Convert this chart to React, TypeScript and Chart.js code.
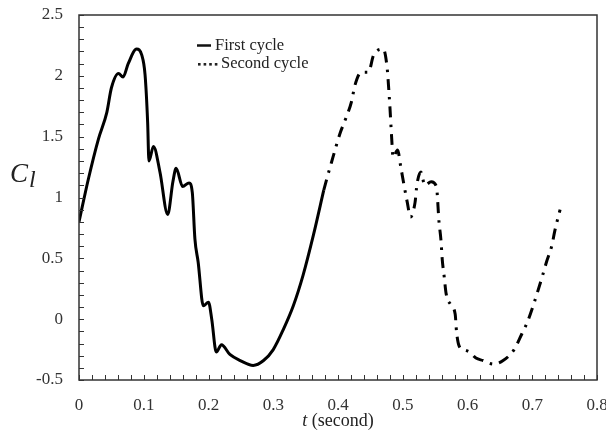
import React, { useEffect, useRef } from 'react';
import { Chart, registerables } from 'chart.js';

Chart.register(...registerables);

// ---- data ----
const firstT = [
  0, 0.0144, 0.03, 0.043, 0.05, 0.061, 0.068, 0.076, 0.089, 0.097, 0.102, 0.106, 0.108,
  0.115, 0.125, 0.137, 0.145, 0.15, 0.16, 0.17, 0.175, 0.179, 0.184, 0.192, 0.2, 0.205,
  0.212, 0.22, 0.233, 0.249, 0.269, 0.285, 0.3, 0.316, 0.331, 0.346, 0.362, 0.378,
];
const firstCl = [
  0.8, 1.15, 1.48, 1.7, 1.9, 2.02, 1.99, 2.1, 2.22, 2.17, 2.01, 1.62, 1.3,
  1.42, 1.21, 0.86, 1.13, 1.24, 1.09, 1.12, 1.04, 0.66, 0.47, 0.11, 0.14, 0.0,
  -0.27, -0.21, -0.29, -0.34, -0.38, -0.34, -0.25, -0.08, 0.11, 0.36, 0.69, 1.06,
];
const secondT = [
  0.378, 0.383, 0.39, 0.397, 0.404, 0.412, 0.421, 0.426, 0.436, 0.447, 0.455, 0.47, 0.476,
  0.478, 0.48, 0.483, 0.485, 0.492, 0.497, 0.502, 0.507, 0.512, 0.519, 0.522, 0.528, 0.534,
  0.544, 0.552, 0.556, 0.559, 0.561, 0.564, 0.567, 0.574, 0.581, 0.583, 0.587, 0.594, 0.603,
  0.613, 0.624, 0.64, 0.655, 0.672, 0.684, 0.692, 0.702, 0.708, 0.716, 0.722, 0.73, 0.735, 0.743,
];
const secondCl = [
  1.06, 1.16, 1.29, 1.42, 1.54, 1.65, 1.79, 1.92, 2.03, 2.03, 2.17, 2.22, 2.06,
  1.92, 1.76, 1.48, 1.33, 1.39, 1.25, 1.1, 0.96, 0.84, 0.96, 1.11, 1.21, 1.1,
  1.13, 1.09, 0.8, 0.65, 0.49, 0.35, 0.21, 0.12, 0.04, -0.1, -0.22, -0.25, -0.27,
  -0.32, -0.34, -0.37, -0.34, -0.25, -0.12, -0.03, 0.12, 0.22, 0.36, 0.47, 0.6, 0.73, 0.9,
];
const xTickLabels = ['0', '0.1', '0.2', '0.3', '0.4', '0.5', '0.6', '0.7', '0.8'];
const yTickLabels = ['-0.5', '0', '0.5', '1', '1.5', '2', '2.5'];
const seriesNames = ['First cycle', 'Second cycle'];
const xTitleItalic = 't';
const xTitleRest = ' (second)';
const yTitleMain = 'C';
const yTitleSub = 'l';

const SERIF = '"Liberation Serif", "Times New Roman", serif';

const isMultiple = (v: number, step: number) => Math.abs(v / step - Math.round(v / step)) < 1e-6;

const decorPlugin = {
  id: 'decor',
  afterDraw(chart: any) {
    const { ctx, chartArea } = chart;
    const { left, right, top, bottom } = chartArea;
    ctx.save();

    // inward tick marks along the bottom and left axes
    ctx.strokeStyle = '#333';
    ctx.lineWidth = 1;
    const xs = chart.scales.x;
    const ys = chart.scales.y;
    ctx.beginPath();
    xs.ticks.forEach((t: any) => {
      const px = Math.round(xs.getPixelForValue(t.value)) + 0.5;
      ctx.moveTo(px, bottom);
      ctx.lineTo(px, bottom - 5);
    });
    ys.ticks.forEach((t: any) => {
      const py = Math.round(ys.getPixelForValue(t.value)) + 0.5;
      ctx.moveTo(left, py);
      ctx.lineTo(left + 5, py);
    });
    ctx.stroke();

    // frame
    ctx.strokeStyle = '#333';
    ctx.lineWidth = 1.5;
    ctx.strokeRect(left, top, right - left, bottom - top);

    // legend
    ctx.fillStyle = '#222';
    ctx.strokeStyle = '#111';
    ctx.lineWidth = 2.5;
    ctx.beginPath();
    ctx.moveTo(197, 45.5);
    ctx.lineTo(211, 45.5);
    ctx.stroke();
    ctx.font = `16.5px ${SERIF}`;
    ctx.textBaseline = 'alphabetic';
    ctx.textAlign = 'left';
    ctx.fillText(seriesNames[0], 215, 50);
    for (let i = 0; i < 4; i++) {
      ctx.fillRect(198 + i * 5.6, 63, 2.6, 2.6);
    }
    ctx.fillText(seriesNames[1], 221, 68);

    // x title
    ctx.font = `italic 18px ${SERIF}`;
    const w1 = ctx.measureText(xTitleItalic).width;
    ctx.font = `18px ${SERIF}`;
    const w2 = ctx.measureText(xTitleRest).width;
    const cx = (left + right) / 2;
    const x0 = cx - (w1 + w2) / 2;
    ctx.font = `italic 18px ${SERIF}`;
    ctx.fillText(xTitleItalic, x0, 426);
    ctx.font = `18px ${SERIF}`;
    ctx.fillText(xTitleRest, x0 + w1, 426);

    // y title
    ctx.font = `italic 27px ${SERIF}`;
    ctx.fillText(yTitleMain, 10, 182);
    const wc = ctx.measureText(yTitleMain).width;
    ctx.font = `italic 24px ${SERIF}`;
    ctx.fillText(yTitleSub, 10 + wc + 1, 187);
    ctx.restore();
  },
};

export default function App() {
  const ref = useRef<HTMLCanvasElement>(null);
  useEffect(() => {
    if (!ref.current) return;
    const chart = new Chart(ref.current, {
      type: 'line',
      data: {
        datasets: [
          {
            label: seriesNames[0],
            data: firstT.map((t, i) => ({ x: t, y: firstCl[i] })),
            borderColor: '#000',
            borderWidth: 3,
            pointRadius: 0,
            cubicInterpolationMode: 'monotone',
            fill: false,
          },
          {
            label: seriesNames[1],
            data: secondT.map((t, i) => ({ x: t, y: secondCl[i] })),
            borderColor: '#000',
            borderWidth: 3,
            borderDash: [11, 7, 2.5, 7],
            pointRadius: 0,
            cubicInterpolationMode: 'monotone',
            fill: false,
          },
        ],
      },
      options: {
        responsive: false,
        animation: false,
        events: [],
        layout: { padding: { top: 15, right: 13, left: 0, bottom: 0 } },
        plugins: { legend: { display: false }, tooltip: { enabled: false } },
        scales: {
          x: {
            type: 'linear',
            min: 0,
            max: 0.8,
            afterFit: (s: any) => { s.height = 52; },
            grid: { display: true, drawOnChartArea: false, drawTicks: true, tickLength: 15, tickColor: 'rgba(0,0,0,0)' },
            border: { display: false },
            ticks: {
              stepSize: 0.02,
              autoSkip: false,
              maxRotation: 0,
              minRotation: 0,
              padding: 0,
              color: '#333',
              font: { family: SERIF, size: 17 },
              callback: (v: any) => (isMultiple(Number(v), 0.1) ? xTickLabels[Math.round(Number(v) / 0.1)] : ''),
            },
          },
          y: {
            type: 'linear',
            min: -0.5,
            max: 2.5,
            afterFit: (s: any) => { s.width = 79; },
            grid: { display: true, drawOnChartArea: false, drawTicks: true, tickLength: 16, tickColor: 'rgba(0,0,0,0)' },
            border: { display: false },
            ticks: {
              stepSize: 0.1,
              autoSkip: false,
              padding: 0,
              color: '#333',
              font: { family: SERIF, size: 17 },
              callback: (v: any) => (isMultiple(Number(v), 0.5) ? yTickLabels[Math.round((Number(v) + 0.5) / 0.5)] : ''),
            },
          },
        },
      },
      plugins: [decorPlugin],
    });
    return () => chart.destroy();
  }, []);
  return (
    <div style={{ position: 'fixed', left: 0, top: 0, width: 606, height: 432, overflow: 'hidden', background: '#fff' }}>
      <canvas ref={ref} width={610} height={432} style={{ display: 'block' }} />
    </div>
  );
}
